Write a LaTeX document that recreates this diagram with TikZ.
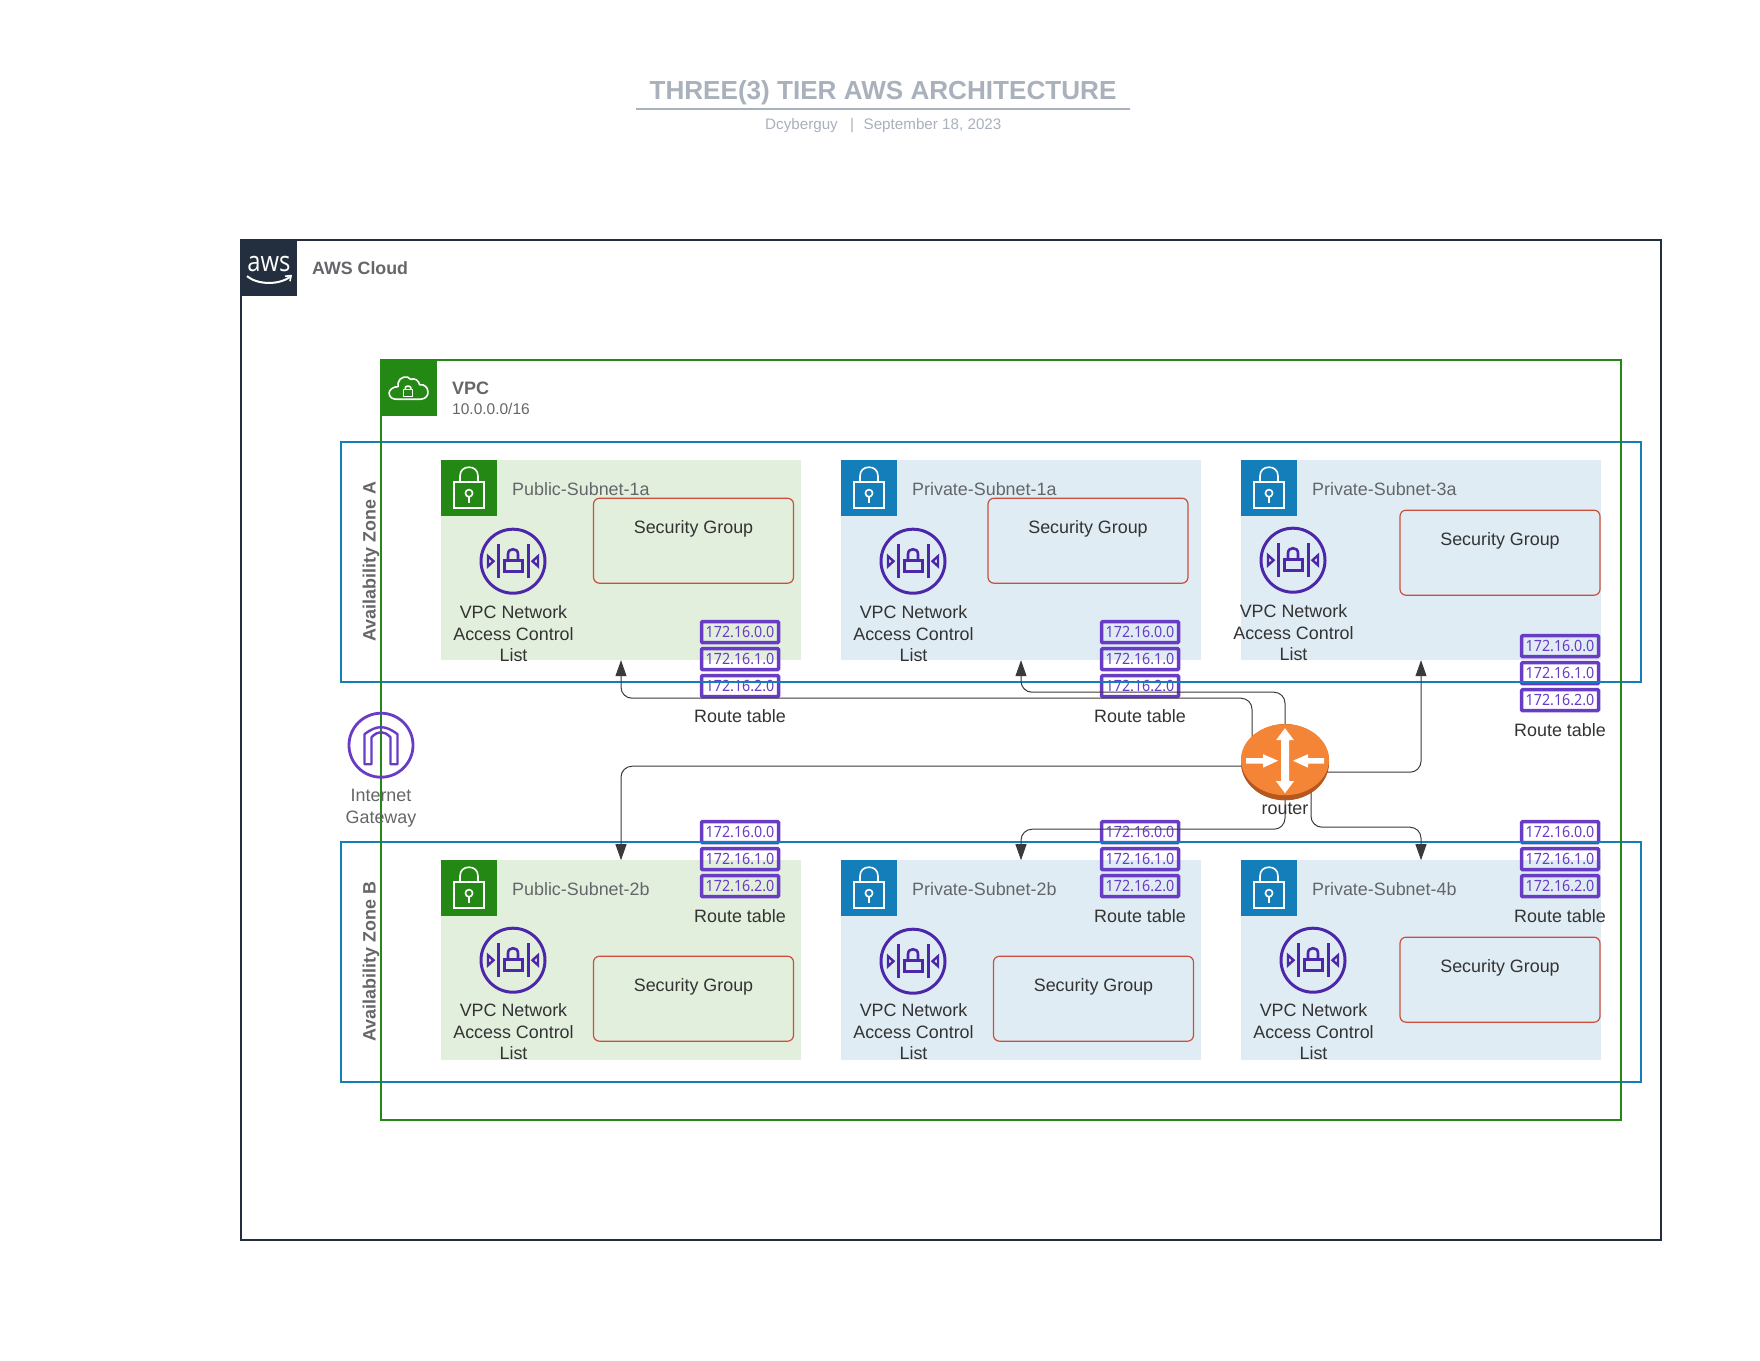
\documentclass[tikz,border=0pt]{standalone}
\usepackage{fontspec}
\usetikzlibrary{arrows.meta,shapes.geometric}
\setmainfont{Liberation Sans}
\newfontfamily\ipfont[FakeStretch=.92]{Noto Sans}
\newfontfamily\awsfont[FakeStretch=.85]{Open Sans}
\definecolor{cloudc}{HTML}{232F3E}
\definecolor{vpcc}{HTML}{248814}
\definecolor{azc}{HTML}{147EBA}
\definecolor{pubfill}{HTML}{E2EFDD}
\definecolor{privfill}{HTML}{DFECF4}
\definecolor{sgc}{HTML}{CB4F3C}
\definecolor{rtc}{HTML}{693CC5}
\definecolor{naclc}{HTML}{4D27AA}
\definecolor{titlec}{HTML}{A9B1BD}
\definecolor{greyt}{HTML}{646669}
\definecolor{lblc}{HTML}{333333}
\definecolor{connc}{HTML}{3A3A3A}
\definecolor{routerc}{HTML}{F58536}
\definecolor{routerd}{HTML}{B5581F}
\newcommand\fs[2]{\fontsize{#1}{#2}\selectfont}
\tikzset{
  x=1pt,y=-1pt,
  subnetbox/.style={minimum width=360pt,minimum height=200pt,inner sep=0pt,outer sep=0pt},
  iconsq/.style={minimum size=56pt,inner sep=0pt,outer sep=0pt},
  subnetlabel/.style={anchor=west,inner sep=0pt,text=greyt,font=\fs{17.9}{21.5}},
  sgbox/.style={draw=sgc,line width=1.2pt,rounded corners=6pt,inner sep=0pt,outer sep=0pt},
  sglabel/.style={inner sep=0pt,text=lblc,font=\fs{17.9}{21.5}},
  naclicon/.style={circle,draw=naclc,line width=3pt,minimum size=64pt,inner sep=0pt},
  nacllabel/.style={inner sep=0pt,align=center,text=lblc,font=\fs{17.9}{21.5}},
  rtbox/.style={draw=rtc,line width=3.5pt,rounded corners=1pt,minimum width=77pt,minimum height=21pt,inner sep=0pt,text=rtc,font=\ipfont\fs{15.5}{18}},
  rtlabel/.style={inner sep=0pt,text=lblc,font=\fs{17.9}{21.5}},
  conn/.style={draw=connc,line width=1pt,rounded corners=11pt},
  tip/.style={-{Triangle[length=16pt,width=11pt,color=connc]}},
  zonelabel/.style={rotate=90,inner sep=0pt,text=greyt,font=\bfseries\fs{17.9}{21.5}},
  lockicon/.pic={
    \draw[white,line width=1.6pt] (-15,-6) rectangle (15,20);
    \draw[white,line width=1.6pt] (-9,-6) -- (-9,-12) .. controls (-9,-18) and (-5,-21) .. (0,-21) .. controls (5,-21) and (9,-18) .. (9,-12) -- (9,-6);
    \draw[white,line width=1.6pt] (0,5) circle[radius=3.6pt];
    \draw[white,line width=1.6pt] (0,8.6) -- (0,15);
  },
  naclglyph/.pic={
    \draw[naclc,line width=3pt] (-15,-17) -- (-15,17) (15,-17) -- (15,17);
    \draw[naclc,line width=3pt] (-9,-1) rectangle (9,10);
    \draw[naclc,line width=2.6pt] (-5,-1) -- (-5,-7) .. controls (-5,-10.5) and (-2.5,-12) .. (0,-12) .. controls (2.5,-12) and (5,-10.5) .. (5,-7) -- (5,-1);
    \draw[naclc,line width=2.4pt,line join=miter] (-25,-5) -- (-19.5,0) -- (-25,5) -- cycle;
    \draw[naclc,line width=2.4pt,line join=miter] (25,-5) -- (19.5,0) -- (25,5) -- cycle;
  },
  igwglyph/.pic={
    \draw[rtc,line width=2.4pt,line join=round] (-16.5,19) -- (-16.5,-11) .. controls (-10,-16) and (-5,-18) .. (0,-18) .. controls (5,-18) and (10,-16) .. (16.5,-11) -- (16.5,19) -- (9.5,19) -- (9.5,-8) .. controls (6,-11.5) and (3,-13) .. (0,-13) .. controls (-3,-13) and (-6,-11.5) .. (-9.5,-8) -- (-9.5,19) -- cycle;
  },
  cloudglyph/.pic={
    \begin{scope}[scale=.9]
    \draw[white,line width=1.6pt,line join=round] (-13,10) -- (14,10) .. controls (20,10) and (23,5) .. (22,1) .. controls (22,-3) and (18,-7) .. (13,-6) .. controls (12,-11) and (7,-14) .. (3,-12) .. controls (0,-17) and (-10,-15) .. (-11,-8) .. controls (-11,-6) and (-11,-5) .. (-11,-4) .. controls (-17,-4) and (-21,0) .. (-21,3) .. controls (-21,8) and (-17,10) .. (-13,10) -- cycle;
    \draw[white,line width=1.6pt] (-5,-1) rectangle (5,7);
    \draw[white,line width=1.6pt] (-3,-1) -- (-3,-3) .. controls (-3,-5) and (3,-5) .. (3,-3) -- (3,-1);
    \end{scope}
  },
}
\newcommand\subnet[6]{%
  \node[subnetbox,fill=#4] (#1) at (#2,#3) {};
  \path (#1.north west) ++(28,28) node[iconsq,fill=#5] (#1-sq) {};
  \pic at (#1-sq) {lockicon};
  \path (#1.north west) ++(71,28.5) node[subnetlabel] (#1-label) {#6};
}
\newcommand\sgroup[5]{%
  \node[sgbox,minimum width=#4,minimum height=#5] (#1) at (#2,#3) {};
  \path (#1.north) ++(0,30.5) node[sglabel] (#1-label) {Security Group};
}
\newcommand\nacl[5]{%
  \node[naclicon] (#1) at (#2,#3) {};
  \pic at (#1) {naclglyph};
  \node[nacllabel] (#1-label) at (#2.5,#4.5) {VPC Network\\Access Control\\List};
}
\newcommand\routetable[4]{%
  \node[rtbox] (#1-a) at (#2,#3) {172.16.0.0};
  \path (#1-a) ++(0,27) node[rtbox] (#1-b) {172.16.1.0};
  \path (#1-b) ++(0,27) node[rtbox] (#1-c) {172.16.2.0};
  \node[rtlabel] (#1-label) at (#2,#4) {Route table};
}
\begin{document}
\begin{tikzpicture}
\useasboundingbox (0,-0.2) rectangle (1760,1359.8);
\fill[white] (0,-0.2) rectangle (1760,1359.8);
% title
\node[inner sep=0pt,text=titlec,font=\bfseries\fs{26.1}{30}] (title) at (883,92.5) {THREE(3) TIER AWS ARCHITECTURE};
\coordinate (ul) at (636,108.4); \coordinate (ur) at (1130,108.4);
\draw[titlec,line width=2pt] (ul) -- (ur);
\node[inner sep=0pt,text=titlec,font=\fs{15.2}{18}] (sub1) at (801.5,125) {Dcyberguy};
\node[inner sep=0pt,text=titlec,font=\fs{15.2}{18}] (sub2) at (852,125) {|};
\node[inner sep=0pt,text=titlec,font=\fs{15.2}{18}] (sub3) at (932.5,125) {September 18, 2023};
% cloud
\node[draw=cloudc,line width=2pt,minimum width=1420pt,minimum height=1000pt,inner sep=0pt,outer sep=0pt] (cloud) at (951,740) {};
\node[iconsq,fill=cloudc] (cloudsq) at (269,268) {};
\node[inner sep=0pt,text=white,font=\awsfont\fs{28}{30}] (awslogo) at (269,264) {aws};
\draw[white,line width=2pt] (247,276) .. controls (258,285) and (280,285) .. (291,276);
\draw[white,line width=1.6pt] (285,276) -- (291,275.5) -- (290,281);
\node[anchor=west,inner sep=0pt,text=greyt,font=\bfseries\fs{17.8}{21.5}] (cloudlabel) at (312,268) {AWS Cloud};
% subnets
\subnet{pub1a}{621}{560}{pubfill}{vpcc}{Public-Subnet-1a}
\subnet{prv1a}{1021}{560}{privfill}{azc}{Private-Subnet-1a}
\subnet{prv3a}{1421}{560}{privfill}{azc}{Private-Subnet-3a}
\subnet{pub2b}{621}{960}{pubfill}{vpcc}{Public-Subnet-2b}
\subnet{prv2b}{1021}{960}{privfill}{azc}{Private-Subnet-2b}
\subnet{prv4b}{1421}{960}{privfill}{azc}{Private-Subnet-4b}
% security groups
\sgroup{sg1}{693.5}{540.5}{200pt}{85pt}
\sgroup{sg2}{1088}{540.5}{200pt}{85pt}
\sgroup{sg3}{1500}{552.5}{200pt}{85pt}
\sgroup{sg4}{693.5}{998.5}{200pt}{85pt}
\sgroup{sg5}{1093.5}{998.5}{200pt}{85pt}
\sgroup{sg6}{1500}{979.5}{200pt}{85pt}
% NACLs
\nacl{n1}{513}{561}{633}{}
\nacl{n2}{913}{561}{633}{}
\nacl{n3}{1293}{560}{632}{}
\nacl{n4}{513}{960}{1031}{}
\nacl{n5}{913}{961}{1031}{}
\nacl{n6}{1313}{960}{1031}{}
% route tables
\routetable{r1}{740}{632}{716}
\routetable{r2}{1140}{632}{716}
\routetable{r3}{1560}{646}{730}
\routetable{r4}{740}{832}{916}
\routetable{r5}{1140}{832}{916}
\routetable{r6}{1560}{832}{916}
% availability zones
\node[draw=azc,line width=2pt,minimum width=1300pt,minimum height=240pt,inner sep=0pt,outer sep=0pt] (aza) at (991,562) {};
\node[draw=azc,line width=2pt,minimum width=1300pt,minimum height=240pt,inner sep=0pt,outer sep=0pt] (azb) at (991,962) {};
\node[zonelabel] (azalabel) at (371,561.5) {Availability Zone A};
\node[zonelabel] (azblabel) at (371,961.5) {Availability Zone B};
% VPC
\node[draw=vpcc,line width=2pt,minimum width=1240pt,minimum height=760pt,inner sep=0pt,outer sep=0pt] (vpc) at (1001,740) {};
\node[iconsq,fill=vpcc] (vpcsq) at (408.5,388) {};
\pic at (408,390) {cloudglyph};
\node[anchor=west,inner sep=0pt,text=greyt,font=\bfseries\fs{18}{21.5}] (vpclabel) at (452,388.5) {VPC};
\node[anchor=west,inner sep=0pt,text=greyt,font=\fs{15.5}{18}] (vpccidr) at (452,408.5) {10.0.0.0/16};
% internet gateway
\node[circle,draw=rtc,line width=2.8pt,minimum size=64pt,inner sep=0pt] (igw) at (381,745) {};
\pic at (igw) {igwglyph};
\node[inner sep=0pt,align=center,text=greyt,font=\fs{17.9}{21.5}] (igwlabel) at (381,808) {Internet\\Gateway};
% connectors
\node[ellipse,minimum width=88pt,minimum height=76pt,inner sep=0pt,outer sep=0pt,fill=routerd] (router) at (1285,762) {};
\coordinate (rUL) at (1252,745);
\coordinate (rW) at (1245,766);
\coordinate (rE) at (1325,772);
\coordinate (rSE) at (1311,785);
\coordinate (c1) at (1252,698); \coordinate (c2) at (621,698);
\coordinate (c3) at (1285,692); \coordinate (c4) at (1021,692);
\coordinate (c5) at (621,766);
\coordinate (c6) at (1421,772);
\coordinate (c7) at (1285,829); \coordinate (c8) at (1021,829);
\coordinate (c9) at (1311,827); \coordinate (c10) at (1421,827);
\draw[conn,tip] (rUL) -- (c1) -- (c2) -- (pub1a.south);
\draw[conn,tip] (router.north) -- (c3) -- (c4) -- (prv1a.south);
\draw[conn,tip] (rW) -- (c5) -- (pub2b.north);
\draw[conn,tip] (rE) -- (c6) -- (prv3a.south);
\draw[conn,tip] (router.south) -- (c7) -- (c8) -- (prv2b.north);
\draw[conn,tip] (rSE) -- (c9) -- (c10) -- (prv4b.north);
% router
\node[ellipse,minimum width=88pt,minimum height=76pt,inner sep=0pt,outer sep=0pt,fill=routerd] (router2) at (router) {};
\fill[routerc] (1285,759.5) ellipse[x radius=44pt,y radius=35.5pt];
\fill[white] (1246,758) -- (1263,758) -- (1263,754) -- (1278,760.5) -- (1263,767.5) -- (1263,763.5) -- (1246,763.5) -- cycle;
\fill[white] (1324,758) -- (1308,758) -- (1308,754) -- (1293,760.5) -- (1308,767.5) -- (1308,763.5) -- (1324,763.5) -- cycle;
\fill[white] (1285,728) -- (1294,740) -- (1289,740) -- (1289,781) -- (1294,781) -- (1285,793) -- (1276,781) -- (1281,781) -- (1281,740) -- (1276,740) -- cycle;
\node[inner sep=0pt,text=lblc,font=\fs{17.9}{21.5}] (routerlabel) at (1285,809) {router};
\end{tikzpicture}
\end{document}
